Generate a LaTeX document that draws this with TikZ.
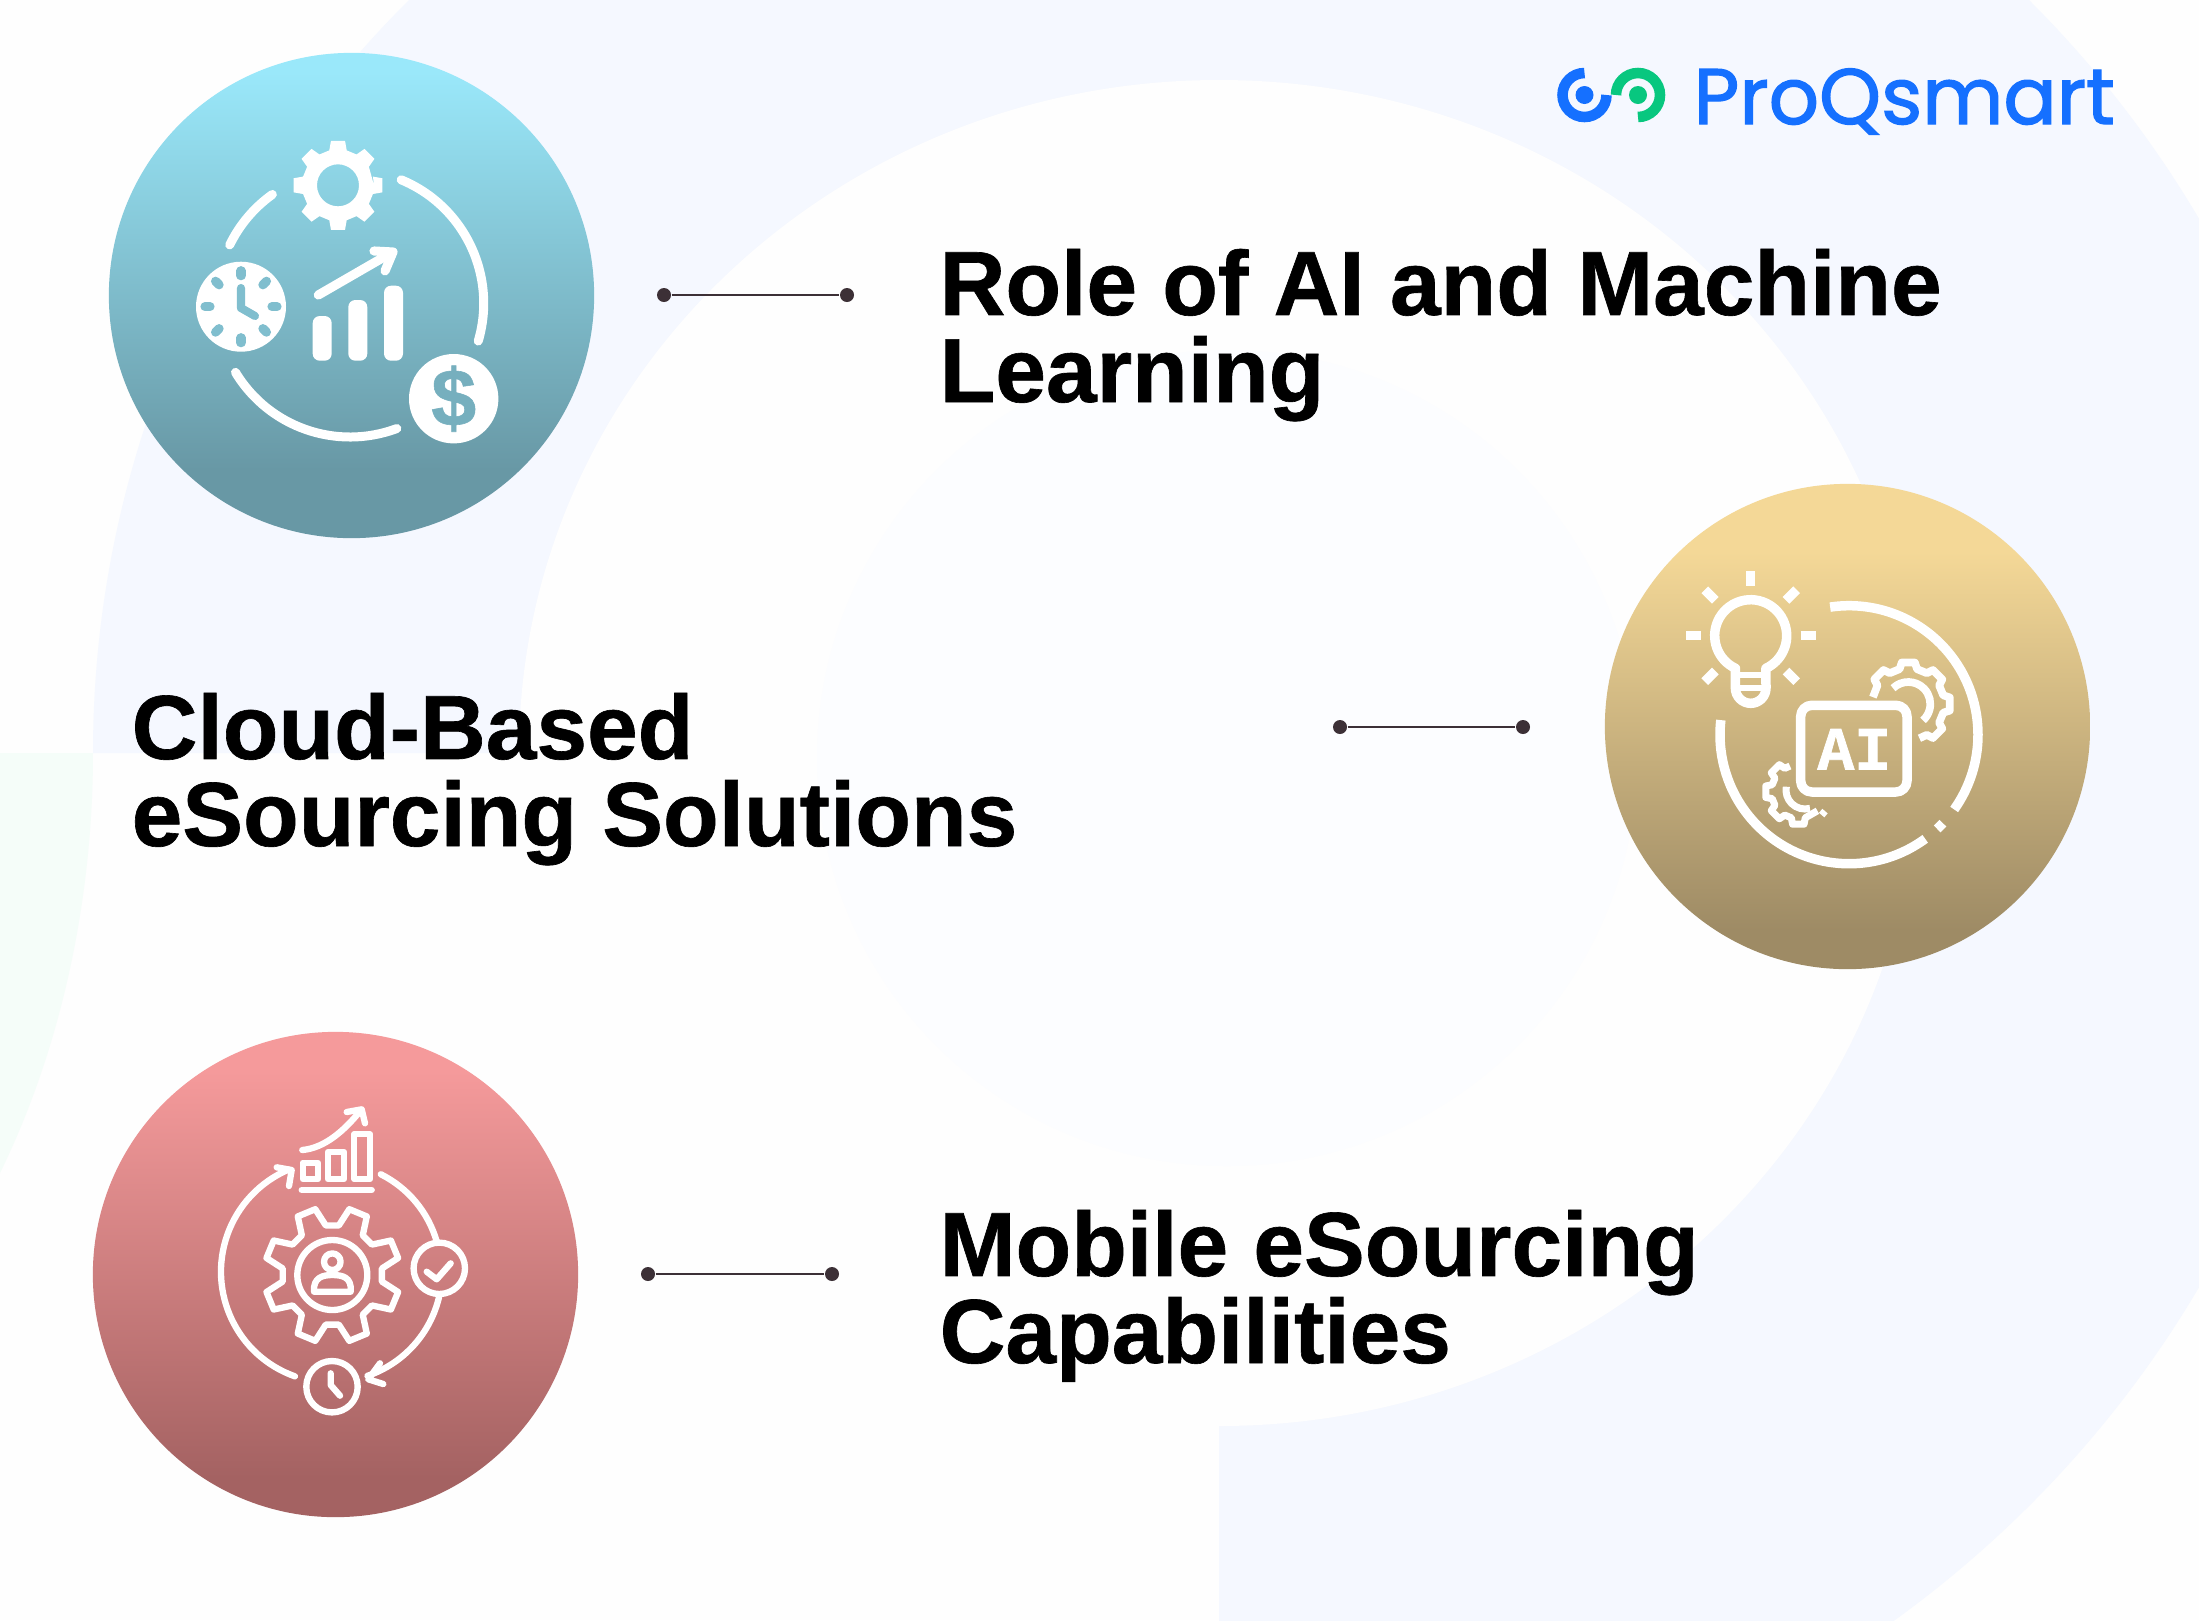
\documentclass[tikz,border=0pt]{standalone}
\usepackage{fontspec}
\usepackage{xcolor}
\usepackage{tikz}
\setmainfont{Liberation Sans}
\newfontfamily\headfont{Liberation Sans}[BoldFeatures={FakeBold=0.7}]
\newfontfamily\logofont{Poppins}[FakeBold=1.6]
\newfontfamily\iconmono{Liberation Mono}[BoldFeatures={FakeBold=1.2}]
\definecolor{paper}{HTML}{FEFEFE}
\definecolor{band}{HTML}{F5F8FF}
\definecolor{core}{HTML}{FCFDFF}
\definecolor{mint}{HTML}{F5FDF9}
\definecolor{logoblue}{HTML}{1570FF}
\definecolor{logogreen}{HTML}{08C77F}
\definecolor{wire}{HTML}{3C3036}
\definecolor{blueT}{HTML}{9AE8FA}
\definecolor{blueB}{HTML}{6898A5}
\definecolor{goldT}{HTML}{F4D897}
\definecolor{goldB}{HTML}{9E8B65}
\definecolor{roseT}{HTML}{F59A9B}
\definecolor{roseB}{HTML}{A46262}
\definecolor{clockhole}{HTML}{80BECE}
\definecolor{coinhole}{HTML}{76AFBE}
\pgfdeclareverticalshading{discblue}{100bp}{color(0bp)=(blueB); color(32bp)=(blueB); color(73bp)=(blueT); color(100bp)=(blueT)}
\pgfdeclareverticalshading{discgold}{100bp}{color(0bp)=(goldB); color(29bp)=(goldB); color(68bp)=(goldT); color(100bp)=(goldT)}
\pgfdeclareverticalshading{discrose}{100bp}{color(0bp)=(roseB); color(29bp)=(roseB); color(71bp)=(roseT); color(100bp)=(roseT)}
\tikzset{
  disc/.style={circle, draw=none, inner sep=0pt, minimum size=4.85cm},
  dot/.style={circle, fill=wire, inner sep=0pt, minimum size=0.14cm},
  wireline/.style={draw=wire, line width=0.75pt},
  lab/.style={anchor=base west, align=left, inner sep=0pt, text=black, font=\fontsize{25.9}{24.75}\selectfont\headfont\bfseries},
  heavy/.style={draw=white, line width=2.56pt, line cap=round, line join=round},
  flat/.style={draw=white, line width=2.7pt, line join=round},
  thin/.style={draw=white, line width=1.8pt, line cap=round, line join=round},
  hole/.style={line width=2.6pt, line cap=round},
}
\begin{document}
\begin{tikzpicture}[x=0.01cm,y=-0.01cm]
  \path[use as bounding box,clip] (0,0) rectangle (2199,1620);
  \fill[paper] (0,0) rectangle (2199,1620);

  \coordinate (mid) at (1219,753);
  \fill[band] (93,753) arc[start angle=180,end angle=360,x radius=1126,y radius=1084] -- cycle;
  \fill[band] (mid) -- (2345,753) arc[start angle=0,end angle=90,x radius=1126,y radius=1084] -- cycle;
  \fill[mint] (0,753) -- (93,753) .. controls (93,890) and (65,1040) .. (0,1173) -- cycle;
  \fill[paper] (mid) ellipse[x radius=700,y radius=673];
  \fill[core] (1227,758) ellipse[x radius=410,y radius=408];

  \node[disc,shading=discblue] (discA) at (351.5,295.5) {};
  \node[disc,shading=discgold] (discB) at (1847.5,726.5) {};
  \node[disc,shading=discrose] (discC) at (335.5,1274.5) {};

  \node[dot] (wireAa) at (664,295) {};
  \node[dot] (wireAb) at (847,295) {};
  \node[dot] (wireBa) at (1340,727) {};
  \node[dot] (wireBb) at (1523,727) {};
  \node[dot] (wireCa) at (648,1274) {};
  \node[dot] (wireCb) at (832,1274) {};
  \draw[wireline] (wireAa) -- (wireAb);
  \draw[wireline] (wireBa) -- (wireBb);
  \draw[wireline] (wireCa) -- (wireCb);

  \node[lab] (role) at (939,402) {Role of AI and Machine\\Learning};
  \node[lab] (cloud) at (131,846) {Cloud-Based\\eSourcing Solutions};
  \node[lab] (mobile) at (939,1363) {Mobile eSourcing\\Capabilities};

  \draw[logoblue,line width=3pt] (1584.5,73) arc[start angle=270,end angle=0,radius=22];
  \draw[logogreen,line width=3pt] (1638,117) arc[start angle=90,end angle=-180,radius=22];
  \fill[logoblue] (1584.5,95) circle (9);
  \fill[logogreen] (1638,95) circle (9);
  \node[anchor=base west,inner sep=0pt,text=logoblue,font=\fontsize{22.4}{22.4}\selectfont\logofont] (brand) at (1693,124) {ProQsmart};

  \coordinate (loopA) at (350,303.3);
  \draw[heavy] ([shift={(-67.5:133.7)}]loopA) arc[start angle=-67.5,end angle=16.4,radius=133.7];
  \draw[heavy] ([shift={(69.5:133.7)}]loopA) arc[start angle=69.5,end angle=148.9,radius=133.7];
  \draw[heavy] ([shift={(205.9:133.7)}]loopA) arc[start angle=205.9,end angle=234.5,radius=133.7];
  \begin{scope}[shift={(338,185.3)}]
    \fill[white,even odd rule] (0:36)
      \foreach \a in {0,45,...,315} { -- (\a-14:36) -- (\a-9:45) -- (\a+9:45) -- (\a+14:36) } -- cycle
      (0,0) circle (21);
  \end{scope}
  \fill[white] (241,306.7) circle (45);
  \foreach \a in {0,45,...,315}
    \draw[clockhole,hole] ([shift={(\a:31)}]241,306.7) -- ([shift={(\a:36)}]241,306.7);
  \draw[clockhole,line width=2.3pt,line cap=round,line join=round] (241,288) -- (241,308) -- (255,316);
  \fill[white] (453.7,398.7) circle (44.7);
  \node[text=coinhole,inner sep=0pt,font=\fontsize{23}{23}\selectfont\headfont\bfseries] (coin) at (453.7,398.7) {\$};
  \fill[white,rounded corners=2pt] (312.7,316) rectangle (331.7,360.7);
  \fill[white,rounded corners=2pt] (348.3,300) rectangle (367.3,360.7);
  \fill[white,rounded corners=2pt] (384,285.7) rectangle (403,360.7);
  \draw[heavy,line width=2.6pt] (318.3,295) -- (391,253);
  \draw[heavy,line width=2.6pt] (374,251) -- (393,252) -- (385,271);

  \coordinate (loopB) at (1849,734.7);
  \draw[flat] ([shift={(-98.4:129)}]loopB) arc[start angle=-98.4,end angle=35.4,radius=129];
  \draw[flat] ([shift={(43.3:129)}]loopB) arc[start angle=43.3,end angle=46.9,radius=129];
  \draw[flat] ([shift={(53.8:129)}]loopB) arc[start angle=53.8,end angle=186.5,radius=129];
  \coordinate (bulb) at (1750.7,635.7);
  \foreach \a in {0,45,135,180,225,270,315}
    \draw[flat] ([shift={(\a:50)}]bulb) -- ([shift={(\a:65)}]bulb);
  \draw[flat] ([shift={(115:36)}]bulb) arc[start angle=115,end angle=425,radius=36] -- (1766,688)
    arc[start angle=0,end angle=180,radius=15.3] -- cycle;
  \draw[white,line width=1.5pt] (1735,675) -- (1766,675) (1735,688) -- (1766,688);
  \draw[flat,rounded corners=3.7mm*0.3] (1800.7,705.3) rectangle (1907,792);
  \node[text=white,inner sep=0pt,font=\fontsize{17.5}{17.5}\selectfont\iconmono\bfseries] (aimark) at (1854.3,749.3) {AI};
  \begin{scope}[shift={(1908.3,704)}]
    \draw[flat,line width=2.2pt] (191:36)
      \foreach \a in {225,270,315,360,405} { -- (\a-14:36) -- (\a-9:42) -- (\a+9:42) -- (\a+14:36) } -- (432:36);
    \draw[flat,line width=2.2pt] (-134:22) arc[start angle=-134,end angle=48,radius=22];
  \end{scope}
  \begin{scope}[shift={(1798.3,791.7)}]
    \draw[flat,line width=2pt] (45:27)
      \foreach \a in {90,135,180,225} { -- (\a-15:27) -- (\a-10:33) -- (\a+10:33) -- (\a+15:27) } -- (252:27);
    \draw[flat,line width=2pt] (36:33) -- (45:33);
  \end{scope}
  \draw[flat,line width=2pt] ([shift={(75:19)}]1805,790) arc[start angle=75,end angle=190,radius=19];

  \coordinate (loopC) at (332,1271.7);
  \draw[thin] ([shift={(109.5:111)}]loopC) arc[start angle=109.5,end angle=246.9,radius=111];
  \draw[thin] (276.7,1167.3) -- (291.7,1170) -- (289,1186);
  \draw[thin] ([shift={(-63.4:109)}]loopC) arc[start angle=-63.4,end angle=-15.9,radius=109];
  \draw[thin] ([shift={(13.1:110)}]loopC) arc[start angle=13.1,end angle=71.2,radius=110];
  \draw[thin] (383.3,1384) -- (368.3,1379.3) -- (380,1363.3);
  \draw[thin] (439.3,1268.3) circle (25.7);
  \draw[thin] (426.7,1271.7) -- (436.7,1279.3) -- (450.7,1263.3);
  \draw[thin] (332,1386.7) circle (25.7);
  \draw[thin] (330.7,1373.3) -- (330.7,1385) -- (340,1395.7);
  \draw[thin] (301.7,1190) -- (371.7,1190);
  \draw[thin] (302.7,1162.7) rectangle (318,1179);
  \draw[thin] (327.7,1152) rectangle (344,1179);
  \draw[thin] (354.3,1134.3) rectangle (370,1179);
  \draw[thin] (302.3,1150) .. controls (325,1148) and (345,1130) .. (361,1110);
  \draw[thin] (346.7,1112) -- (361.7,1109.3) -- (365,1123.3);
  \begin{scope}[shift={(332.3,1275)}]
    \draw[thin] (7.5:50)
      \foreach \a in {22.5,67.5,...,337.5} { -- (\a-15:50) -- (\a-8:68) -- (\a+8:68) -- (\a+15:50) } -- cycle;
    \draw[thin] (0,0) circle (35);
    \draw[thin] (0,-13.3) circle (8.3);
    \draw[thin] (-18.3,16.7) .. controls (-19.3,2) and (-9,0) .. (0,0)
      .. controls (10,0) and (19.7,2) .. (18.4,16.7) -- cycle;
  \end{scope}
\end{tikzpicture}
\end{document}
